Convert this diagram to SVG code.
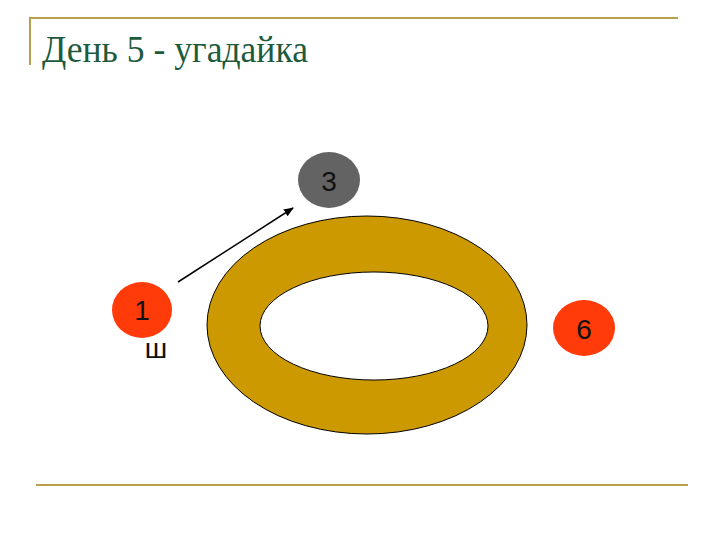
<svg xmlns="http://www.w3.org/2000/svg" width="720" height="540" viewBox="0 0 720 540">
<style>
.frame{stroke:#b89f4a;stroke-width:2;fill:none}
.num{font-family:"Liberation Sans",Arial,sans-serif;font-size:28px;fill:#111;text-anchor:middle}
.red{fill:#ff3b0a}
</style>
<defs>
<marker id="arr" markerWidth="10" markerHeight="8" refX="9" refY="4" orient="auto" markerUnits="userSpaceOnUse">
<path d="M0,0 L10,4 L0,8 Z" fill="#000"/>
</marker>
</defs>
<rect width="720" height="540" fill="#fff"/>
<path class="frame" d="M30,65 V18 H678"/>
<line class="frame" x1="36" y1="485" x2="688" y2="485"/>
<text x="42" y="62" font-family="'Liberation Serif','Times New Roman',serif" font-size="38" fill="#1e5a3c" textLength="266" lengthAdjust="spacingAndGlyphs">День 5 - угадайка</text>
<g id="ring">
<path d="M207,325 a160,109 0 1,0 320,0 a160,109 0 1,0 -320,0 Z M260,326 a114,54 0 1,1 228,0 a114,54 0 1,1 -228,0 Z" fill="#cc9900" fill-rule="evenodd" stroke="#000" stroke-width="1"/>
</g>
<g id="node1">
<ellipse class="red" cx="142" cy="310" rx="30" ry="28"/>
<text class="num" x="142" y="320">1</text>
<text class="num" x="156" y="358">ш</text>
</g>
<g id="node3">
<ellipse cx="329" cy="180" rx="31" ry="28" fill="#636363"/>
<text class="num" x="329" y="191">3</text>
</g>
<g id="node6">
<ellipse class="red" cx="584" cy="328" rx="31" ry="28"/>
<text class="num" x="584" y="339">6</text>
</g>
<g id="connectors">
<line x1="178" y1="282" x2="293" y2="208" stroke="#000" stroke-width="1.5" marker-end="url(#arr)"/>
</g>
</svg>
